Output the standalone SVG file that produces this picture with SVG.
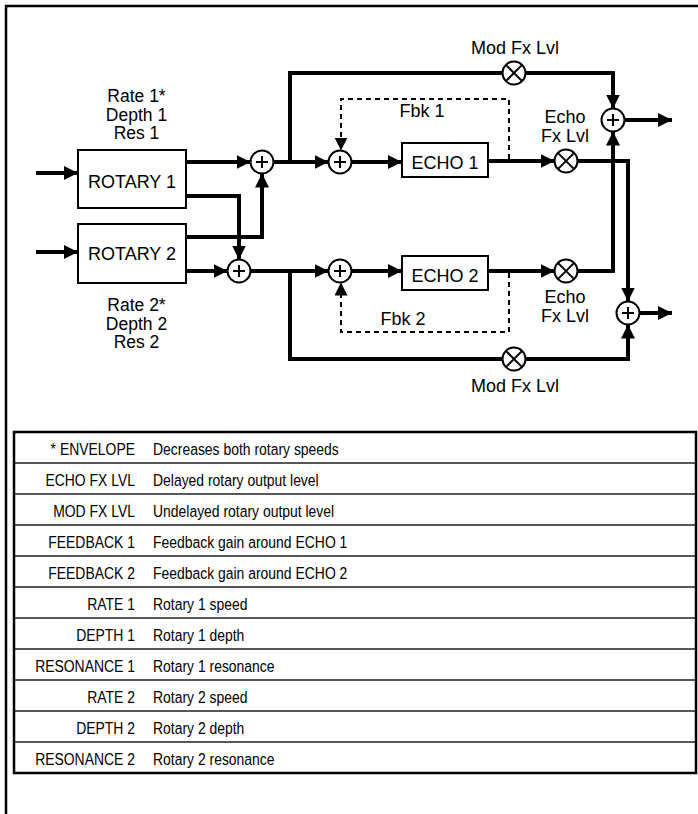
<svg xmlns="http://www.w3.org/2000/svg" width="698" height="814" viewBox="0 0 698 814">
<style>
text{font-family:"Liberation Sans",Arial,sans-serif;fill:#000}
.d{font-size:18px;text-anchor:middle}
.p{font-size:17.5px;text-anchor:middle}
.t{font-size:17px}
.r{text-anchor:end}
.c{fill:none;stroke:#000;stroke-width:4;stroke-linejoin:miter}
.dash{fill:none;stroke:#000;stroke-width:2;stroke-dasharray:5 4}
.box{fill:#fff;stroke:#000;stroke-width:2}
.op{fill:#fff;stroke:#000;stroke-width:2}
.sym{stroke:#000;stroke-width:2}
.row{stroke:#222;stroke-width:1.5}
</style>
<defs>
<marker id="ah" markerUnits="userSpaceOnUse" viewBox="0 0 14 14" refX="14" refY="7" markerWidth="14" markerHeight="14" orient="auto">
<path d="M0,0 L14,7 L0,14 Z" fill="#000"/>
</marker>
<marker id="ahs" markerUnits="userSpaceOnUse" viewBox="0 0 13 13" refX="13" refY="6.5" markerWidth="13" markerHeight="13" orient="auto">
<path d="M0,0 L13,6.5 L0,13 Z" fill="#000"/>
</marker>
<g id="plus"><circle r="11.5" class="op"/><path d="M-6,0 H6 M0,-6 V6" class="sym"/></g>
<g id="times"><circle r="11.5" class="op"/><path d="M-8.1,-8.1 L8.1,8.1 M-8.1,8.1 L8.1,-8.1" class="sym"/></g>
</defs>

<g id="frame"><path d="M6,814 V6 H698" fill="none" stroke="#000" stroke-width="2.5"/></g>

<g id="connectors">
<path class="c" d="M36,173 H78" marker-end="url(#ah)"/>
<path class="c" d="M36,252 H78" marker-end="url(#ah)"/>
<path class="c" d="M186,162 H250.5" marker-end="url(#ah)"/>
<path class="c" d="M186,196 H239 V259.5" marker-end="url(#ah)"/>
<path class="c" d="M186,237 H262 V173.5" marker-end="url(#ah)"/>
<path class="c" d="M186,271 H227.5" marker-end="url(#ah)"/>
<path class="c" d="M273.5,162 H328.5" marker-end="url(#ah)"/>
<path class="c" d="M290,162 V73 H613 V108.5" marker-end="url(#ah)"/>
<path class="c" d="M351.5,162 H402" marker-end="url(#ah)"/>
<path class="c" d="M488,161 H554.5" marker-end="url(#ah)"/>
<path class="c" d="M577.5,161 H628 V301.5" marker-end="url(#ah)"/>
<path class="c" d="M624.5,120 H672" marker-end="url(#ah)"/>
<path class="c" d="M639.5,313 H672" marker-end="url(#ah)"/>
<path class="c" d="M250.5,271 H328.5" marker-end="url(#ah)"/>
<path class="c" d="M290,271 V359 H628 V324.5" marker-end="url(#ah)"/>
<path class="c" d="M351.5,271 H402" marker-end="url(#ah)"/>
<path class="c" d="M488,271 H554.5" marker-end="url(#ah)"/>
<path class="c" d="M577.5,271 H613 V131.5" marker-end="url(#ah)"/>
<path class="dash" d="M509,159 V99 H341 V150.5" marker-end="url(#ahs)"/>
<path class="dash" d="M509,273 V332 H341 V282.5" marker-end="url(#ahs)"/>
</g>

<g id="rotary1"><rect class="box" x="78" y="150" width="108" height="58"/><text class="d" x="132" y="188">ROTARY 1</text></g>
<g id="rotary2"><rect class="box" x="78" y="224" width="108" height="59"/><text class="d" x="132" y="260">ROTARY 2</text></g>
<g id="echo1"><rect class="box" x="402" y="143" width="86" height="34"/><text class="d" x="445" y="169">ECHO 1</text></g>
<g id="echo2"><rect class="box" x="402" y="256" width="86" height="34"/><text class="d" x="445" y="282">ECHO 2</text></g>

<g id="sum1"><use href="#plus" x="262" y="162"/></g>
<g id="sum2"><use href="#plus" x="239" y="271"/></g>
<g id="sum3"><use href="#plus" x="340" y="162"/></g>
<g id="sum4"><use href="#plus" x="340" y="271"/></g>
<g id="sum5"><use href="#plus" x="613" y="120"/></g>
<g id="sum6"><use href="#plus" x="628" y="313"/></g>
<g id="mod1"><use href="#times" x="514" y="73"/></g>
<g id="mod2"><use href="#times" x="514" y="359"/></g>
<g id="echolvl1"><use href="#times" x="566" y="161"/></g>
<g id="echolvl2"><use href="#times" x="566" y="271"/></g>

<g id="labels">
<text class="p" x="136.5" y="102">Rate 1*<tspan x="136.5" dy="18.5">Depth 1</tspan><tspan x="136.5" dy="18.5">Res 1</tspan></text>
<text class="p" x="136.5" y="311">Rate 2*<tspan x="136.5" dy="18.5">Depth 2</tspan><tspan x="136.5" dy="18.5">Res 2</tspan></text>
<text class="d" x="515" y="54">Mod Fx Lvl</text>
<text class="d" x="515" y="392">Mod Fx Lvl</text>
<text class="d" x="422" y="117">Fbk 1</text>
<text class="d" x="403" y="325">Fbk 2</text>
<text class="d" x="565" y="123">Echo<tspan x="565" dy="19">Fx Lvl</tspan></text>
<text class="d" x="565" y="303">Echo<tspan x="565" dy="19">Fx Lvl</tspan></text>
</g>

<g id="table">
<path class="row" d="M14,463 H696 M14,494 H696 M14,525 H696 M14,556 H696 M14,587 H696 M14,618 H696 M14,649 H696 M14,680 H696 M14,711 H696 M14,742 H696"/>
<rect x="14" y="432" width="682" height="341" fill="none" stroke="#000" stroke-width="2.5"/>
<g transform="scale(0.82 1)">
<text class="t r" x="164.6" y="455">* ENVELOPE</text><text class="t" x="186.6" y="455">Decreases both rotary speeds</text>
<text class="t r" x="164.6" y="486">ECHO FX LVL</text><text class="t" x="186.6" y="486">Delayed rotary output level</text>
<text class="t r" x="164.6" y="517">MOD FX LVL</text><text class="t" x="186.6" y="517">Undelayed rotary output level</text>
<text class="t r" x="164.6" y="548">FEEDBACK 1</text><text class="t" x="186.6" y="548">Feedback gain around ECHO 1</text>
<text class="t r" x="164.6" y="579">FEEDBACK 2</text><text class="t" x="186.6" y="579">Feedback gain around ECHO 2</text>
<text class="t r" x="164.6" y="610">RATE 1</text><text class="t" x="186.6" y="610">Rotary 1 speed</text>
<text class="t r" x="164.6" y="641">DEPTH 1</text><text class="t" x="186.6" y="641">Rotary 1 depth</text>
<text class="t r" x="164.6" y="672">RESONANCE 1</text><text class="t" x="186.6" y="672">Rotary 1 resonance</text>
<text class="t r" x="164.6" y="703">RATE 2</text><text class="t" x="186.6" y="703">Rotary 2 speed</text>
<text class="t r" x="164.6" y="734">DEPTH 2</text><text class="t" x="186.6" y="734">Rotary 2 depth</text>
<text class="t r" x="164.6" y="765">RESONANCE 2</text><text class="t" x="186.6" y="765">Rotary 2 resonance</text>
</g>
</g>
</svg>
